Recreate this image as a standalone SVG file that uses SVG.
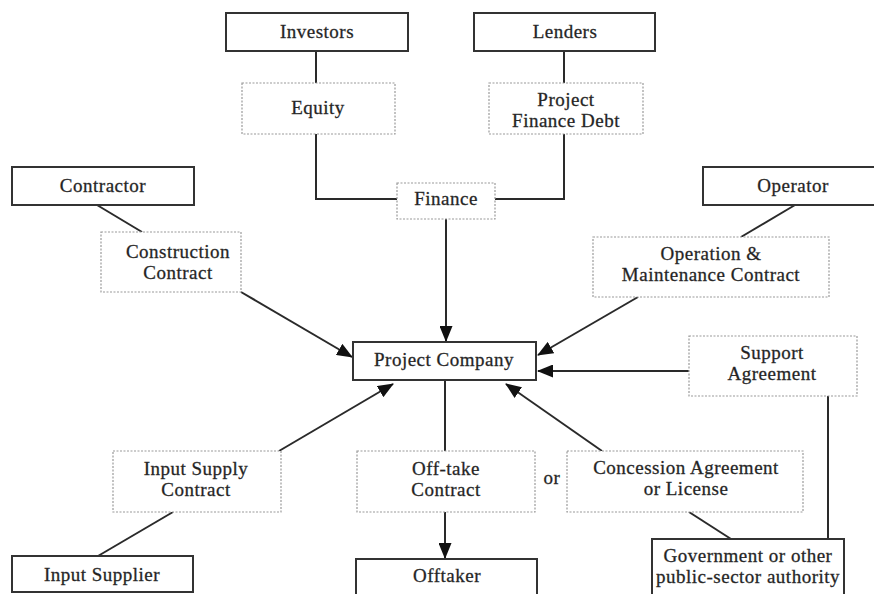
<svg xmlns="http://www.w3.org/2000/svg" width="874" height="594" viewBox="0 0 874 594">
<defs>
<marker id="arr" markerUnits="userSpaceOnUse" markerWidth="16" markerHeight="13" refX="15" refY="6.5" orient="auto">
<path d="M0,0 L16,6.5 L0,13 z" fill="#111"/>
</marker>
<style>
.solid{fill:#fff;stroke:#333;stroke-width:2}
.dash{fill:#fff;stroke:#9a9a9a;stroke-width:1.2;stroke-dasharray:2 1.5}
.ln{fill:none;stroke:#2a2a2a;stroke-width:2}
.ar{fill:none;stroke:#2a2a2a;stroke-width:2;marker-end:url(#arr)}
text{font-family:"Liberation Serif","Times New Roman",serif;font-size:19px;letter-spacing:0.5px;fill:#222;stroke:#333;stroke-width:0.3;text-anchor:middle}
</style>
</defs>
<rect width="874" height="594" fill="#fff"/>
<g id="connectors">
<path class="ln" d="M316,51 V83"/>
<path class="ln" d="M316,134 V199 H397"/>
<path class="ln" d="M564,51 V83"/>
<path class="ln" d="M564,134 V199 H495"/>
<path class="ar" d="M446,219 V341"/>
<path class="ln" d="M97,205 L142,232"/>
<path class="ar" d="M241,292 L352,357"/>
<path class="ln" d="M795,205 L741,237"/>
<path class="ar" d="M638,297 L538,355"/>
<path class="ar" d="M689,371 H538"/>
<path class="ln" d="M828,396 V539"/>
<path class="ln" d="M445,380 V451"/>
<path class="ar" d="M445,512 V558"/>
<path class="ar" d="M279,451 L393,384"/>
<path class="ln" d="M98,556 L173,512"/>
<path class="ar" d="M602,451 L506,384"/>
<path class="ln" d="M689,512 L731,539"/>
</g>
<g id="investors"><rect class="solid" x="226" y="13" width="182" height="38"/><text x="317" y="38">Investors</text></g>
<g id="lenders"><rect class="solid" x="474" y="13" width="181" height="38"/><text x="565" y="38">Lenders</text></g>
<g id="equity"><rect class="dash" x="242" y="83" width="153" height="51"/><text x="318" y="114">Equity</text></g>
<g id="pfd"><rect class="dash" x="489" y="83" width="154" height="51"/><text x="566" y="106">Project</text><text x="566" y="127">Finance Debt</text></g>
<g id="finance"><rect class="dash" x="397" y="183" width="98" height="36"/><text x="446" y="205">Finance</text></g>
<g id="contractor"><rect class="solid" x="12" y="167" width="182" height="38"/><text x="103" y="192">Contractor</text></g>
<g id="construction"><rect class="dash" x="101" y="232" width="140" height="60"/><text x="178" y="258">Construction</text><text x="178" y="279">Contract</text></g>
<g id="operator"><rect class="solid" x="703" y="167" width="180" height="38"/><text x="793" y="192">Operator</text></g>
<g id="om"><rect class="dash" x="593" y="237" width="236" height="60"/><text x="711" y="260">Operation &amp;</text><text x="711" y="281">Maintenance Contract</text></g>
<g id="project-company"><rect class="solid" x="353" y="342" width="183" height="38"/><text x="444" y="366">Project Company</text></g>
<g id="support"><rect class="dash" x="689" y="336" width="168" height="60"/><text x="772" y="359">Support</text><text x="772" y="380">Agreement</text></g>
<g id="input-supply"><rect class="dash" x="113" y="451" width="168" height="61"/><text x="196" y="475">Input Supply</text><text x="196" y="496">Contract</text></g>
<g id="offtake"><rect class="dash" x="357" y="451" width="178" height="61"/><text x="446" y="475">Off-take</text><text x="446" y="496">Contract</text></g>
<g id="or"><text x="552" y="484">or</text></g>
<g id="concession"><rect class="dash" x="567" y="451" width="236" height="61"/><text x="686" y="474">Concession Agreement</text><text x="686" y="495">or License</text></g>
<g id="input-supplier"><rect class="solid" x="12" y="556" width="181" height="36"/><text x="102" y="581">Input Supplier</text></g>
<g id="offtaker"><rect class="solid" x="356" y="559" width="181" height="42"/><text x="447" y="582">Offtaker</text></g>
<g id="government"><rect class="solid" x="652" y="539" width="192" height="62"/><text x="748" y="562">Government or other</text><text x="748" y="583">public-sector authority</text></g>
</svg>
